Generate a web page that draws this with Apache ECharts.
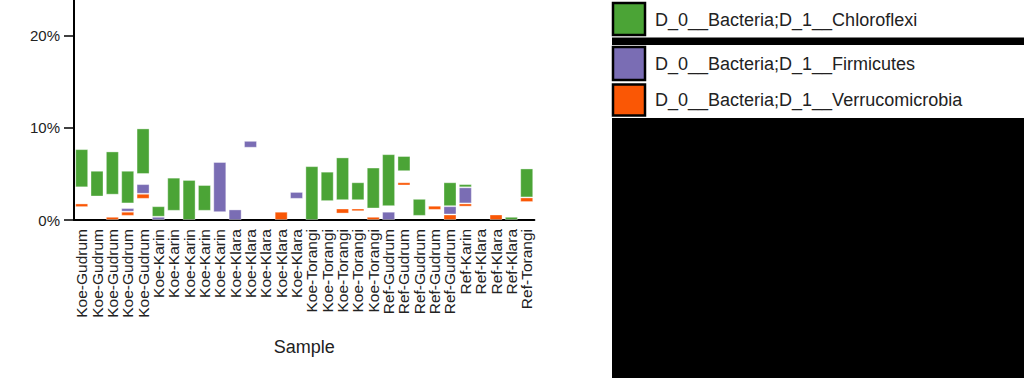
<!DOCTYPE html>
<html>
<head>
<meta charset="utf-8">
<script src="https://cdn.jsdelivr.net/npm/echarts@6/dist/echarts.min.js"></script>
<style>
html,body{margin:0;padding:0;background:#fff;}
#chart{width:1024px;height:378px;}
</style>
</head>
<body>
<div id="chart"></div>
<script>
var categories = [
  'Koe-Gudrum','Koe-Gudrum','Koe-Gudrum','Koe-Gudrum','Koe-Gudrum',
  'Koe-Karin','Koe-Karin','Koe-Karin','Koe-Karin','Koe-Karin',
  'Koe-Klara','Koe-Klara','Koe-Klara','Koe-Klara','Koe-Klara',
  'Koe-Torangi','Koe-Torangi','Koe-Torangi','Koe-Torangi','Koe-Torangi',
  'Ref-Gudrum','Ref-Gudrum','Ref-Gudrum','Ref-Gudrum','Ref-Gudrum',
  'Ref-Karin','Ref-Klara','Ref-Klara','Ref-Klara','Ref-Torangi'
];
var taxa = ['D_0__Bacteria;D_1__Chloroflexi','D_0__Bacteria;D_1__Firmicutes','D_0__Bacteria;D_1__Verrucomicrobia'];
var colors = ['#4ba436','#7a6db4','#fa5705'];
var yTicks = [0, 10, 20];

// Chloroflexi (percent): bottom and top of each floating segment
var chloroLow  = [3.55,2.55,2.75,1.8,5.0, 0.35,1.0,0,1.0,null, null,null,null,null,null, 0,2.05,2.15,2.15,1.25, 1.5,5.3,0.45,null,1.5, 3.55,null,null,0,2.45];
var chloroHigh = [7.7,5.35,7.45,5.35,9.95, 1.5,4.6,4.35,3.8,null, null,null,null,null,null, 5.85,5.25,6.8,4.1,5.7, 7.15,6.95,2.3,null,4.1, 3.9,null,null,0.35,5.6];
// Firmicutes
var firmLow  = [null,null,null,0.9,2.85, 0,null,null,null,0.85, 0,7.85,null,null,2.3, null,null,null,null,null, 0,null,null,null,0.6, 1.8,null,null,null,null];
var firmHigh = [null,null,null,1.3,3.9, 0.35,null,null,null,6.3, 1.15,8.6,null,null,3.05, null,null,null,null,null, 0.9,null,null,null,1.5, 3.55,null,null,null,null];
// Verrucomicrobia
var verrLow  = [1.4,null,0,0.45,2.3, null,null,null,null,null, null,null,null,0,null, null,null,0.7,0.95,0, null,3.75,null,1.1,0, 1.45,null,0,null,1.95];
var verrHigh = [1.8,null,0.35,0.9,2.85, null,null,null,null,null, null,null,null,0.9,null, null,null,1.25,1.25,0.35, null,4.1,null,1.55,0.6, 1.8,null,0.6,null,2.45];

var lows = [chloroLow, firmLow, verrLow];
var highs = [chloroHigh, firmHigh, verrHigh];

var series = [];
for (var k = 0; k < 3; k++) {
  var base = lows[k].map(function (v) { return v; });
  var span = highs[k].map(function (h, i) { return (h === null || lows[k][i] === null) ? null : +(h - lows[k][i]).toFixed(3); });
  series.push({
    type: 'bar', stack: 's' + k, data: base, barWidth: 13, barGap: '-100%',
    itemStyle: { color: 'transparent' }, silent: true
  });
  series.push({
    type: 'bar', stack: 's' + k, name: taxa[k], data: span, barWidth: 13, barGap: '-100%',
    itemStyle: { color: colors[k], borderColor: 'rgba(255,255,255,0.35)', borderWidth: 1 }
  });
}

var chart = echarts.init(document.getElementById('chart'), null, { renderer: 'svg' });
var txt = '#222';
var ff = '"Liberation Sans", Arial, sans-serif';
var legendGraphics = [
  { type: 'rect', shape: { x: 612, y: 37.5, width: 412, height: 7.5 }, style: { fill: '#000' } },
  { type: 'rect', shape: { x: 612, y: 118, width: 412, height: 260 }, style: { fill: '#000' } },
  { type: 'rect', shape: { x: 613, y: 3, width: 32, height: 32 }, style: { fill: colors[0], stroke: '#000', lineWidth: 2.5 } },
  { type: 'rect', shape: { x: 613, y: 47, width: 32, height: 33 }, style: { fill: colors[1], stroke: '#000', lineWidth: 2.5 } },
  { type: 'rect', shape: { x: 613, y: 84.5, width: 32, height: 31 }, style: { fill: colors[2], stroke: '#000', lineWidth: 2.5 } },
  { type: 'text', x: 655, y: 20, style: { text: taxa[0], fill: txt, font: '18px ' + ff, verticalAlign: 'middle' } },
  { type: 'text', x: 655, y: 64, style: { text: taxa[1], fill: txt, font: '18px ' + ff, verticalAlign: 'middle' } },
  { type: 'text', x: 655, y: 100, style: { text: taxa[2], fill: txt, font: '18px ' + ff, verticalAlign: 'middle' } }
];

chart.setOption({
  animation: false,
  backgroundColor: '#fff',
  grid: { left: 74, right: 489.6, top: 0, bottom: 158, containLabel: false },
  xAxis: {
    type: 'category', data: categories,
    name: 'Sample', nameLocation: 'middle', nameGap: 118,
    nameTextStyle: { fontSize: 18, color: txt, fontFamily: ff },
    axisLine: { lineStyle: { color: '#000', width: 2 } },
    axisTick: { alignWithLabel: true, length: 5, lineStyle: { color: '#000', width: 1.5 } },
    axisLabel: { rotate: 90, interval: 0, margin: 9, fontSize: 15.5, color: txt, fontFamily: ff }
  },
  yAxis: {
    type: 'value', min: yTicks[0], max: 23.9, interval: 10,
    splitLine: { show: false },
    axisLine: { show: true, lineStyle: { color: '#000', width: 2 } },
    axisTick: { show: true, inside: false, length: 10, lineStyle: { color: '#000', width: 1.5 } },
    axisLabel: { margin: 14, fontSize: 15, color: txt, showMaxLabel: false, fontFamily: ff,
      formatter: function (v) { return yTicks.indexOf(v) >= 0 ? v + '%' : ''; } }
  },
  series: series,
  graphic: legendGraphics
});
</script>
</body>
</html>
